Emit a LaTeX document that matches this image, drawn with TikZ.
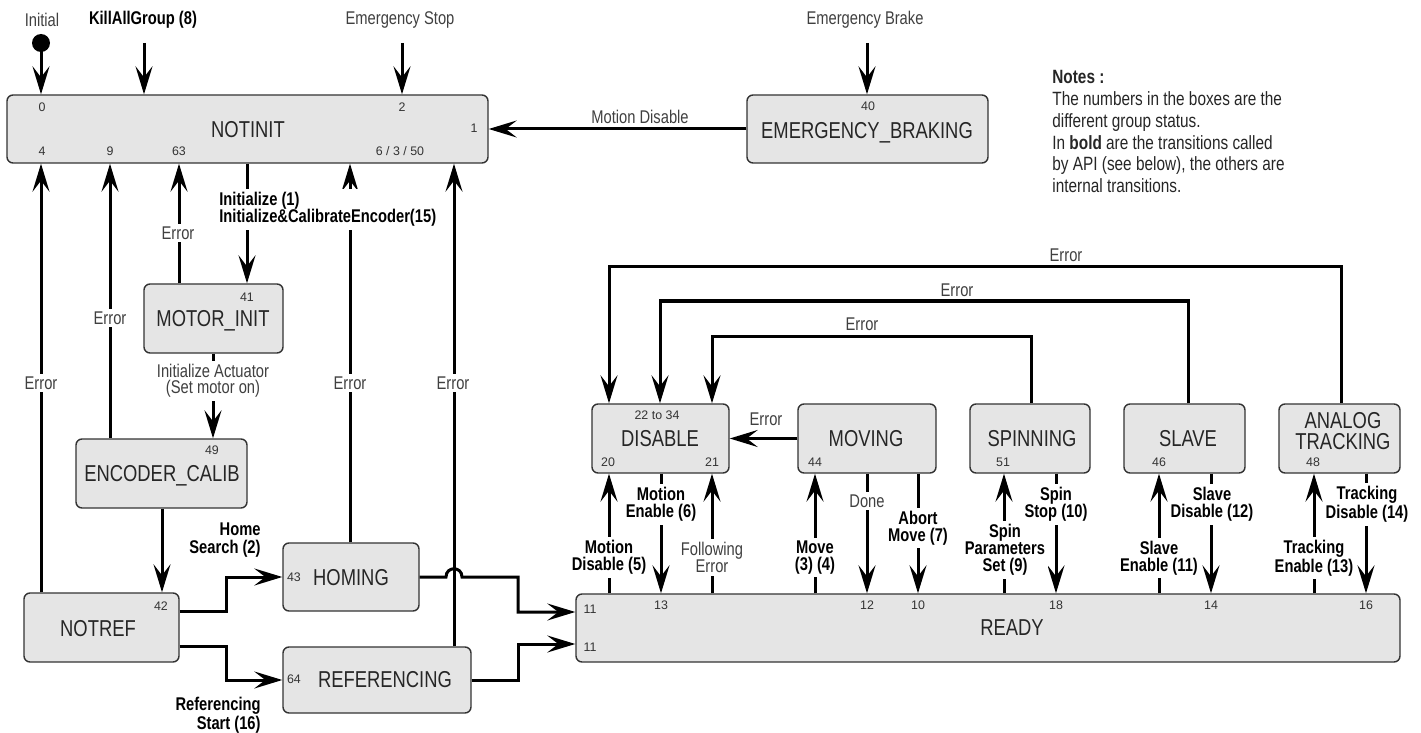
\documentclass[tikz,border=0pt]{standalone}
\usepackage{fontspec}
\setmainfont{Liberation Sans}[FakeStretch=0.8]
\newfontfamily\numfont{Liberation Sans}
\usetikzlibrary{arrows.meta}
\begin{document}
\begin{tikzpicture}[x=0.5pt,y=-0.5pt,
  box/.style={draw=black!80, line width=0.7pt, fill=black!10, rounded corners=3pt, inner sep=0pt},
  ttl/.style={font=\fontsize{11.5}{12}\selectfont, text=black!85, inner sep=0pt, text height=8.2pt, text depth=0pt},
  num/.style={font=\numfont\fontsize{6.2}{7}\selectfont, text=black!80, inner sep=0pt},
  plain/.style={font=\fontsize{9.2}{8.6}\selectfont, text=black!75, inner sep=1pt, align=center},
  lbl/.style={plain, fill=white, inner sep=1.5pt},
  blbl/.style={lbl, font=\bfseries\fontsize{9.2}{8.6}\selectfont, text=black},
  con/.style={line width=1.5pt},
  arr/.style={con, -{Stealth[length=14pt, width=8.5pt, inset=5.5pt]}},
]
\useasboundingbox (0,0) rectangle (1421,733);

% column / row helpers
\foreach \n in {41,110,144,162,179,213,226,247,350,402,454,518,609,660,661,712,815,867,918,1004,1031,1056,1159,1188,1211,1314,1341,1366}
  {\coordinate (x\n) at (\n,0);}
\foreach \n in {267,301,336,611,612,644,646}
  {\coordinate (y\n) at (0,\n);}

% boxes
\node[box, minimum width=240.5pt, minimum height=34pt] (notinit) at (247.5,129) {};
\node[box, minimum width=120.5pt, minimum height=34pt] (emb) at (867.5,129) {};
\node[box, minimum width=69.5pt, minimum height=34.5pt] (motor) at (213.5,318.5) {};
\node[box, minimum width=85.5pt, minimum height=34.5pt] (enc) at (161.5,473.5) {};
\node[box, minimum width=77.5pt, minimum height=34.5pt] (notref) at (101.5,627.5) {};
\node[box, minimum width=68pt, minimum height=34pt] (homing) at (351,577) {};
\node[box, minimum width=94pt, minimum height=33pt] (refing) at (377,680) {};
\node[box, minimum width=412pt, minimum height=34pt] (ready) at (988,628) {};
\node[box, minimum width=68.5pt, minimum height=34.5pt] (disable) at (660.5,438.5) {};
\node[box, minimum width=69pt, minimum height=34.5pt] (moving) at (867,438.5) {};
\node[box, minimum width=60pt, minimum height=34.5pt] (spin) at (1030,438.5) {};
\node[box, minimum width=60.5pt, minimum height=34.5pt] (slave) at (1184.5,438.5) {};
\node[box, minimum width=60.5pt, minimum height=34.5pt] (analog) at (1339.5,438.5) {};

% titles
\node[ttl] (tnotinit) at (248,129) {NOTINIT};
\node[ttl] (temb) at (867,130) {EMERGENCY\_BRAKING};
\node[ttl] (tmotor) at (213,318) {MOTOR\_INIT};
\node[ttl] (tenc) at (162,473) {ENCODER\_CALIB};
\node[ttl] (tnotref) at (98,628) {NOTREF};
\node[ttl] (thoming) at (351,577) {HOMING};
\node[ttl] (trefing) at (385,679) {REFERENCING};
\node[ttl] (tready) at (1012,627) {READY};
\node[ttl] (tdisable) at (660,438) {DISABLE};
\node[ttl] (tmoving) at (866,438) {MOVING};
\node[ttl] (tspin) at (1032,438) {SPINNING};
\node[ttl] (tslave) at (1188,438) {SLAVE};
\node[font=\fontsize{11.5}{10.5}\selectfont, text=black!85, inner sep=0pt, align=center] (tanalog) at (1343,431) {ANALOG\\TRACKING};

% numbers
\node[num] (n0) at (42,107) {0};
\node[num] (n2) at (402,107) {2};
\node[num] (n1) at (474,128) {1};
\node[num] (n4) at (42,151) {4};
\node[num] (n9) at (110,151) {9};
\node[num] (n63) at (179,151) {63};
\node[num] (n6350) at (400,151) {6 / 3 / 50};
\node[num] (n40) at (868,106) {40};
\node[num] (n41) at (247,297) {41};
\node[num] (n49) at (212,450) {49};
\node[num] (n42) at (161,606) {42};
\node[num] (n43) at (294,577) {43};
\node[num] (n64) at (294,679) {64};
\node[num] (n11a) at (590,609) {11};
\node[num] (n11b) at (590,647) {11};
\node[num] (n13) at (661,605) {13};
\node[num] (n12) at (867,605) {12};
\node[num] (n10) at (918,605) {10};
\node[num] (n18) at (1056,605) {18};
\node[num] (n14) at (1211,605) {14};
\node[num] (n16) at (1366,605) {16};
\node[num] (n2234) at (657,415) {22 to 34};
\node[num] (n20) at (608,462) {20};
\node[num] (n21) at (712,462) {21};
\node[num] (n44) at (815,462) {44};
\node[num] (n51) at (1003,462) {51};
\node[num] (n46) at (1159,462) {46};
\node[num] (n48) at (1313,462) {48};

% top entries
\node[plain] (tinitial) at (42,20) {Initial};
\node[fill=black, circle, inner sep=0pt, minimum size=9pt] (dot) at (41,43) {};
\draw[arr] (dot.center) -- (notinit.north -| dot);
\node[plain, font=\bfseries\fontsize{9.2}{8.6}\selectfont, text=black] (tkill) at (143,20) {KillAllGroup (8)};
\coordinate (kill0) at (144,43);
\draw[arr] (kill0) -- (notinit.north -| kill0);
\node[plain] (testop) at (400,20) {Emergency Stop};
\coordinate (es0) at (402,43);
\draw[arr] (es0) -- (notinit.north -| es0);
\node[plain] (tebrake) at (865,20) {Emergency Brake};
\coordinate (eb0) at (867,43);
\draw[arr] (eb0) -- (emb.north -| eb0);
\draw[arr] (emb.west) -- (notinit.east |- emb.west);
\node[plain] (lmd) at (640,117) {Motion Disable};

% returns to NOTINIT
\draw[arr] (notref.north -| x41) -- (notinit.south -| x41);
\draw[arr] (enc.north -| x110) -- (notinit.south -| x110);
\draw[arr] (motor.north -| x179) -- (notinit.south -| x179);
\draw[arr] (notinit.south -| x247) -- (motor.north -| x247);
\draw[arr] (homing.north -| x350) -- (notinit.south -| x350);
\draw[arr] (refing.north -| x454) -- (notinit.south -| x454);
\draw[arr] (motor.south -| x213) -- (enc.north -| x213);
\draw[arr] (enc.south -| x162) -- (notref.north -| x162);

\node[lbl] (e41) at (41,383) {Error};
\node[lbl] (e110) at (110,318) {Error};
\node[lbl] (e179) at (178,233) {Error};
\node[lbl] (e350) at (350,383) {Error};
\node[lbl] (e454) at (453,383) {Error};
\node[blbl, anchor=west, align=left] (linit) at (216,209.5) {Initialize (1)\\Initialize\&CalibrateEncoder(15)};
\node[lbl, font=\fontsize{9.2}{8}\selectfont] (lact) at (213,381) {Initialize Actuator\\(Set motor on)};

% NOTREF to HOMING / REFERENCING
\draw[arr] (notref.east |- y611) -| (x226 |- homing.west) -- (homing.west);
\draw[arr] (notref.east |- y646) -| (x226 |- refing.west) -- (refing.west);
\node[blbl, fill=none, anchor=east, align=right] (lhome) at (264,540) {Home\\Search (2)};
\node[blbl, fill=none, anchor=east, align=right] (lref) at (264,715) {Referencing\\Start (16)};

% HOMING / REFERENCING to READY
\coordinate (bumpA) at (446,577);
\coordinate (bumpB) at (462,577);
\coordinate (bumpC1) at (446,566);
\coordinate (bumpC2) at (462,566);
\draw[arr] (homing.east) -- (bumpA) .. controls (bumpC1) and (bumpC2) .. (bumpB) -- (x518 |- bumpB) -- (x518 |- y612) -- (ready.west |- y612);
\draw[arr] (refing.east) -| (x518 |- y644) -- (ready.west |- y644);

% READY <-> upper states
\draw[arr] (ready.north -| x609) -- (disable.south -| x609);
\draw[arr] (disable.south -| x661) -- (ready.north -| x661);
\draw[arr] (ready.north -| x712) -- (disable.south -| x712);
\draw[arr] (ready.north -| x815) -- (moving.south -| x815);
\draw[arr] (moving.south -| x867) -- (ready.north -| x867);
\draw[arr] (moving.south -| x918) -- (ready.north -| x918);
\draw[arr] (ready.north -| x1004) -- (spin.south -| x1004);
\draw[arr] (spin.south -| x1056) -- (ready.north -| x1056);
\draw[arr] (ready.north -| x1159) -- (slave.south -| x1159);
\draw[arr] (slave.south -| x1211) -- (ready.north -| x1211);
\draw[arr] (ready.north -| x1314) -- (analog.south -| x1314);
\draw[arr] (analog.south -| x1366) -- (ready.north -| x1366);

\node[blbl] (lmd5) at (609,557.5) {Motion\\Disable (5)};
\node[blbl] (lme6) at (661,504.5) {Motion\\Enable (6)};
\node[lbl] (lfe) at (712,557.5) {Following\\Error};
\node[blbl] (lmove) at (815,557.5) {Move\\(3) (4)};
\node[lbl] (ldone) at (867,501) {Done};
\node[blbl] (labort) at (918,528) {Abort\\Move (7)};
\node[blbl] (lsps) at (1005,550) {Spin\\Parameters\\Set (9)};
\node[blbl] (lss) at (1056,504.5) {Spin\\Stop (10)};
\node[blbl] (lse) at (1159,558) {Slave\\Enable (11)};
\node[blbl] (lsd) at (1212,504.5) {Slave\\Disable (12)};
\node[blbl] (lte) at (1314,558) {Tracking\\Enable (13)};
\node[blbl] (ltd) at (1367,504.5) {Tracking\\Disable (14)};

% Error routes to DISABLE
\draw[arr] (analog.north -| x1341) |- (x609 |- y267) -- (disable.north -| x609);
\draw[arr] (slave.north -| x1188) |- (x660 |- y301) -- (disable.north -| x660);
\draw[arr] (spin.north -| x1031) |- (x712 |- y336) -- (disable.north -| x712);
\draw[arr] (moving.west) -- (disable.east |- moving.west);
\node[plain] (er1) at (1066,255) {Error};
\node[plain] (er2) at (957,290) {Error};
\node[plain] (er3) at (862,324) {Error};
\node[plain] (er4) at (766,419) {Error};

% notes
\node[anchor=north west, align=left, font=\fontsize{9.6}{10.9}\selectfont, text=black!85, inner sep=0pt] (notes) at (1052,70)
  {\textbf{Notes :}\\The numbers in the boxes are the\\different group status.\\In \textbf{bold} are the transitions called\\by API (see below), the others are\\internal transitions.};
\end{tikzpicture}
\end{document}
